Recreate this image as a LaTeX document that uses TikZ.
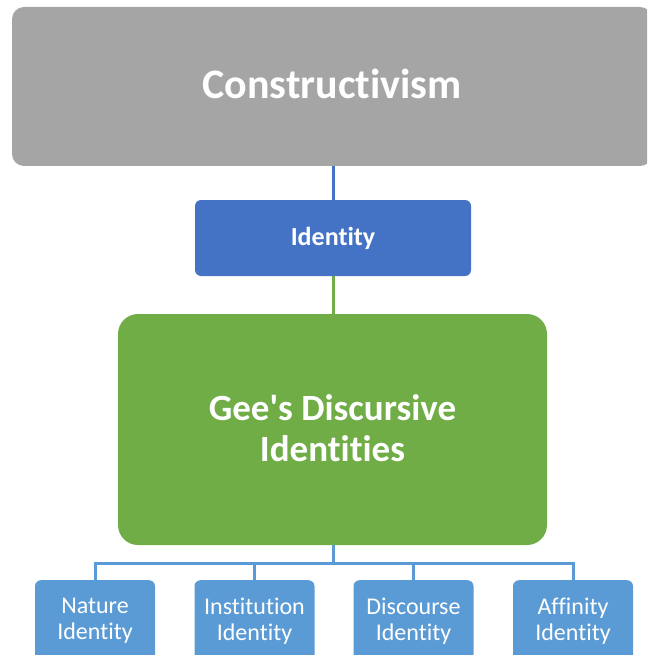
\documentclass[tikz,border=0pt]{standalone}
\usepackage{fontspec}
\setmainfont{Carlito}[Ligatures=NoCommon, RawFeature={-liga;-calt;-dlig;-clig}]
\definecolor{topgray}{HTML}{A5A5A5}
\definecolor{midblue}{HTML}{4472C4}
\definecolor{geegreen}{HTML}{70AD47}
\definecolor{leafblue}{HTML}{5B9BD5}
\tikzset{
  x=1pt, y=-1pt,
  box/.style={draw=none, text=white, align=center, inner sep=0pt},
  leafbox/.style={box, fill=leafblue, rounded corners=6pt,
    minimum width=120pt, minimum height=82pt, anchor=north,
    font=\fontsize{24}{26}\selectfont},
  link/.style={line width=3pt},
}
\begin{document}
\begin{tikzpicture}
\useasboundingbox (0,0) rectangle (647,655);
\begin{scope}
\clip (0,0) rectangle (647,655);
% top concept
\node[box, fill=topgray, rounded corners=12pt, minimum width=640pt,
  minimum height=159pt, font=\fontsize{42}{46}\bfseries\selectfont]
  (cons) at (332,86.5) {\raisebox{3pt}[\height][\depth]{Constructivism}};
% identity
\node[box, fill=midblue, rounded corners=6pt, minimum width=276pt,
  minimum height=76pt, font=\fontsize{26}{30}\bfseries\selectfont]
  (ident) at (333,238) {Identity};
% Gee's identities
\node[box, fill=geegreen, rounded corners=20pt, minimum width=429pt,
  minimum height=231pt, font=\fontsize{37}{41}\bfseries\selectfont]
  (gee) at (332.5,429.5) {\raisebox{-3pt}[\height][\depth]{\begin{tabular}{@{}c@{}}Gee\textquotesingle s Discursive\\Identities\end{tabular}}};
% the four kinds of identity
\node[leafbox] (nat) at (95,580) {Nature\\Identity};
\node[leafbox] (ins) at (254.5,580) {Institution\\Identity};
\node[leafbox] (dis) at (413.5,580) {Discourse\\Identity};
\node[leafbox] (aff) at (573,580) {Affinity\\Identity};
% connectors
\draw[link, midblue] (cons.south -| ident.north) -- (ident.north);
\draw[link, geegreen] (ident.south) -- (ident.south |- gee.north);
\coordinate (bus) at (333,563);
\draw[link, leafblue] (gee.south -| bus) -- (bus);
\draw[link, leafblue] (nat.north) -- (nat.north |- bus) -- (aff.north |- bus) -- (aff.north);
\draw[link, leafblue] (ins.north) -- (ins.north |- bus);
\draw[link, leafblue] (dis.north) -- (dis.north |- bus);
\end{scope}
\end{tikzpicture}
\end{document}
